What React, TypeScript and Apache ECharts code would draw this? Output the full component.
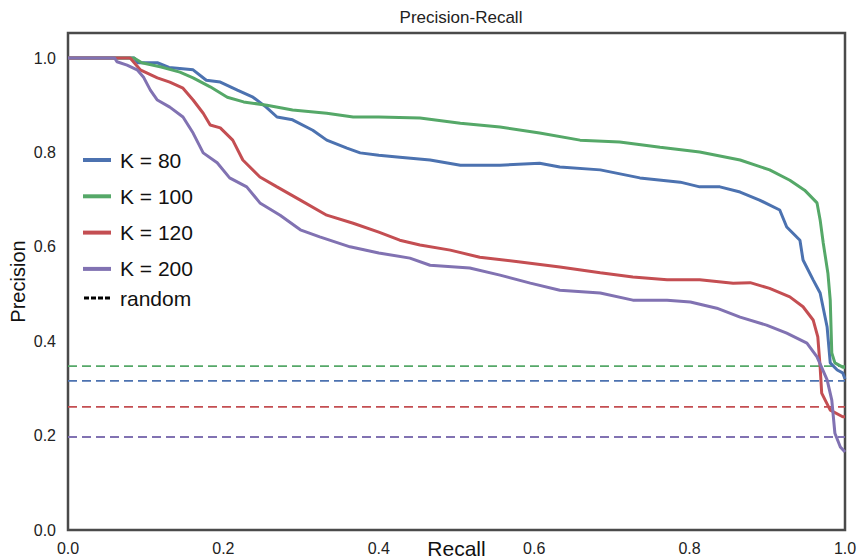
import React, { useEffect, useRef } from "react";
import * as echarts from "echarts";

const k80: number[][] = [
  [0, 1], [0.085, 1], [0.09, 0.99], [0.115, 0.99], [0.13, 0.98], [0.161, 0.975], [0.178, 0.953],
  [0.196, 0.949], [0.218, 0.932], [0.238, 0.917], [0.255, 0.896], [0.269, 0.875], [0.289, 0.869],
  [0.315, 0.847], [0.333, 0.826], [0.359, 0.809], [0.376, 0.799], [0.4, 0.794], [0.427, 0.79],
  [0.466, 0.784], [0.505, 0.773], [0.556, 0.773], [0.607, 0.777], [0.633, 0.769], [0.685, 0.763],
  [0.736, 0.746], [0.788, 0.737], [0.813, 0.727], [0.839, 0.727], [0.865, 0.716], [0.89, 0.699],
  [0.916, 0.678], [0.925, 0.642], [0.942, 0.614], [0.946, 0.572], [0.959, 0.53], [0.968, 0.502],
  [0.977, 0.43], [0.981, 0.354], [0.99, 0.339], [0.997, 0.333], [1, 0.32],
];
const k100: number[][] = [
  [0, 1], [0.085, 1], [0.095, 0.99], [0.12, 0.981], [0.144, 0.97], [0.161, 0.958], [0.183, 0.939],
  [0.205, 0.917], [0.226, 0.907], [0.256, 0.9], [0.289, 0.89], [0.333, 0.883], [0.367, 0.875],
  [0.4, 0.875], [0.453, 0.873], [0.505, 0.862], [0.556, 0.854], [0.607, 0.841], [0.659, 0.826],
  [0.71, 0.822], [0.762, 0.811], [0.813, 0.801], [0.865, 0.784], [0.903, 0.763], [0.929, 0.741],
  [0.948, 0.72], [0.964, 0.693], [0.968, 0.657], [0.972, 0.608], [0.978, 0.544], [0.981, 0.487],
  [0.983, 0.375], [0.987, 0.354], [0.997, 0.345], [1, 0.345],
];
const k120: number[][] = [
  [0, 1], [0.08, 1], [0.093, 0.975], [0.115, 0.958], [0.131, 0.949], [0.148, 0.936], [0.161, 0.911],
  [0.174, 0.883], [0.183, 0.858], [0.196, 0.852], [0.212, 0.826], [0.225, 0.784], [0.247, 0.748],
  [0.269, 0.727], [0.299, 0.699], [0.333, 0.667], [0.367, 0.65], [0.4, 0.631], [0.427, 0.614],
  [0.453, 0.604], [0.492, 0.593], [0.53, 0.578], [0.582, 0.568], [0.633, 0.557], [0.685, 0.545],
  [0.727, 0.536], [0.771, 0.53], [0.813, 0.53], [0.856, 0.523], [0.878, 0.524], [0.903, 0.512],
  [0.929, 0.494], [0.946, 0.473], [0.959, 0.445], [0.965, 0.409], [0.968, 0.345], [0.97, 0.29],
  [0.981, 0.254], [0.997, 0.24], [1, 0.24],
];
const k200: number[][] = [
  [0, 1], [0.06, 1], [0.063, 0.992], [0.076, 0.985], [0.089, 0.975], [0.097, 0.96], [0.106, 0.932],
  [0.115, 0.911], [0.131, 0.896], [0.148, 0.875], [0.161, 0.841], [0.174, 0.799], [0.192, 0.778],
  [0.208, 0.746], [0.23, 0.727], [0.247, 0.693], [0.273, 0.667], [0.299, 0.636], [0.324, 0.621],
  [0.363, 0.6], [0.4, 0.587], [0.44, 0.576], [0.466, 0.561], [0.517, 0.555], [0.556, 0.54],
  [0.595, 0.523], [0.633, 0.508], [0.685, 0.502], [0.727, 0.487], [0.771, 0.487], [0.801, 0.483],
  [0.835, 0.47], [0.865, 0.451], [0.899, 0.434], [0.925, 0.417], [0.951, 0.396], [0.964, 0.367],
  [0.977, 0.318], [0.983, 0.275], [0.987, 0.205], [0.994, 0.176], [1, 0.165],
];

const seriesNames = ["K = 80", "K = 100", "K = 120", "K = 200"];
const curves = [k80, k100, k120, k200];
const randomLevels = [0.316, 0.347, 0.261, 0.197];
const colors = ["#4C72B0", "#55A868", "#C44E52", "#8172B2"];
const xTicks = [0, 0.2, 0.4, 0.6, 0.8, 1.0];

const FONT = "'Liberation Sans', Arial, Helvetica, sans-serif";
const DOTTED_ICON = "path://M0,0h5v3h-5zM7,0h5v3h-5zM14,0h5v3h-5zM21,0h5v3h-5z";

export default function App() {
  const ref = useRef<HTMLDivElement>(null);
  useEffect(() => {
    document.body.style.margin = "0";
    const chart = echarts.init(ref.current!, null, { renderer: "svg" });
    const series: any[] = [];
    curves.forEach((c, i) => {
      series.push({
        name: seriesNames[i],
        type: "line",
        data: c,
        symbol: "none",
        lineStyle: { color: colors[i], width: 3 },
        itemStyle: { color: colors[i] },
        z: 3,
      });
    });
    randomLevels.forEach((lv, i) => {
      series.push({
        name: "rand" + i,
        type: "line",
        data: [[0, lv], [1, lv]],
        symbol: "none",
        lineStyle: { color: colors[i], width: 1.8, type: [9, 5] },
        z: 2,
      });
    });
    series.push({
      name: "random",
      type: "line",
      data: [],
      symbol: "none",
      lineStyle: { color: "#000", width: 3 },
      itemStyle: { color: "#000" },
    });
    chart.setOption({
      animation: false,
      title: {
        text: "Precision-Recall",
        left: 456,
        textAlign: "center",
        top: 4,
        textStyle: { fontFamily: FONT, fontSize: 17, fontWeight: "normal", color: "#222" },
      },
      legend: [
        {
          data: seriesNames.map((n) => ({ name: n, icon: "rect" })),
          orient: "vertical",
          left: 78,
          top: 143,
          itemWidth: 28,
          itemHeight: 4,
          itemGap: 12.3,
          textStyle: { fontFamily: FONT, fontSize: 21, lineHeight: 24, color: "#111", padding: [0, 0, 0, 4] },
          selectedMode: false,
        },
        {
          data: [{ name: "random", icon: DOTTED_ICON }],
          orient: "vertical",
          left: 79,
          top: 281,
          itemWidth: 26,
          itemHeight: 3,
          textStyle: { fontFamily: FONT, fontSize: 21, lineHeight: 24, color: "#111", padding: [0, 0, 0, 5] },
          selectedMode: false,
        },
      ],
      grid: {
        left: 68,
        right: 16,
        top: 33,
        bottom: 30,
        show: true,
        borderColor: "#4a4a4a",
        borderWidth: 2.5,
        containLabel: false,
        outerBoundsMode: "none",
      },
      xAxis: {
        type: "value",
        min: 0,
        max: 1,
        interval: 0.2,
        name: "Recall",
        nameLocation: "middle",
        nameGap: 8,
        nameMoveOverlap: false,
        nameTextStyle: { fontFamily: FONT, fontSize: 21, color: "#111" },
        axisLine: { show: false },
        axisTick: { show: false },
        splitLine: { show: false },
        axisLabel: {
          fontFamily: FONT,
          fontSize: 16,
          color: "#222",
          margin: 10,
          formatter: (v: number) => (xTicks.some((t) => Math.abs(t - v) < 1e-6) ? v.toFixed(1) : ""),
        },
      },
      yAxis: {
        type: "value",
        min: 0,
        max: 1.053,
        interval: 0.2,
        name: "Precision",
        nameLocation: "middle",
        nameGap: 40,
        nameMoveOverlap: false,
        nameTextStyle: { fontFamily: FONT, fontSize: 20, color: "#111" },
        axisLine: { show: false },
        axisTick: { show: false },
        splitLine: { show: false },
        axisLabel: {
          fontFamily: FONT,
          fontSize: 16,
          color: "#222",
          margin: 12,
          showMaxLabel: false,
          formatter: (v: number) => v.toFixed(1),
        },
      },
      series,
    });
    return () => chart.dispose();
  }, []);
  return <div ref={ref} style={{ width: 861, height: 560 }} />;
}
